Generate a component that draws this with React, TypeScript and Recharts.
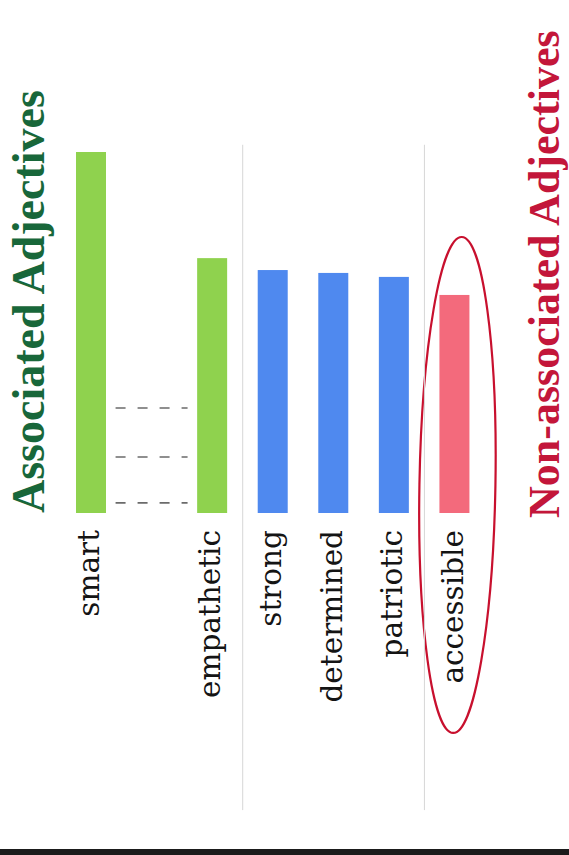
import { BarChart, Bar, XAxis, YAxis, ReferenceLine } from "recharts";

// categories left to right; "" is the gap slot where bars were left out
const categories = ["smart", "", "empathetic", "strong", "determined", "patriotic", "accessible"];
const scores = [100, 29.1, 70.6, 67.3, 66.5, 65.4, 60.4];
const groups = ["associated", "gap", "associated", "common", "common", "common", "non"];
// heights of the dashed "more bars" marks in the gap slot
const gapMarks = [29.1, 15.5, 2.8];
// a divider is drawn in front of these categories
const dividerBefore = ["strong", "accessible"];

const COLORS: Record<string, string> = {
  associated: "#8fd24e",
  common: "#4f89ef",
  non: "#f36a7c",
};

const data = categories.map((name, i) => ({
  name,
  value: scores[i],
  group: groups[i],
}));

function BarShape(props: any) {
  const { x, y, width, height, payload } = props;
  if (payload.group === "gap") {
    // value maps to height, so pixels per unit = height / value
    const perUnit = height / payload.value;
    const base = y + height;
    return (
      <g>
        {gapMarks.map((m, i) => (
          <line
            key={i}
            x1={x - 21}
            x2={x + width + 21}
            y1={base - m * perUnit}
            y2={base - m * perUnit}
            stroke="#6b6b6b"
            strokeWidth={1.6}
            strokeDasharray="10 12"
          />
        ))}
      </g>
    );
  }
  const fill = COLORS[payload.group];
  const rect = <rect x={x} y={y} width={width} height={height} fill={fill} />;
  if (payload.group !== "non") return rect;

  // hand-drawn style circle around the non-associated bar and its label
  const cx = x + width / 2 + 3;
  const top = y - 58;
  const bottom = y + height + 220;
  const ry = (bottom - top) / 2;
  const cy = top + ry;
  return (
    <g>
      {rect}
      <ellipse
        cx={cx}
        cy={cy}
        rx={38}
        ry={ry}
        fill="none"
        stroke="#c8102e"
        strokeWidth={2.2}
        transform={`rotate(1 ${cx} ${cy})`}
      />
    </g>
  );
}

function CategoryTick(props: any) {
  const { x, y, payload } = props;
  if (!payload.value) return null;
  return (
    <text
      x={x}
      y={y}
      dy={8}
      transform={`rotate(-90 ${x} ${y})`}
      textAnchor="end"
      fontFamily="DejaVu Serif"
      fontSize={29.5}
      fill="#141414"
    >
      {payload.value}
    </text>
  );
}

export default function App() {
  return (
    <div
      style={{
        position: "absolute",
        left: 0,
        top: 0,
        width: 569,
        height: 855,
        background: "#ffffff",
        overflow: "hidden",
      }}
    >
      <BarChart
        width={569}
        height={855}
        data={data}
        margin={{ top: 152, right: 84, left: 61, bottom: 0 }}
      >
        <XAxis
          dataKey="name"
          height={342}
          interval={0}
          tickLine={false}
          axisLine={false}
          tickSize={0}
          tickMargin={17}
          tick={<CategoryTick />}
        />
        <YAxis hide domain={[0, 100]} />
        {dividerBefore.map((c) => (
          <ReferenceLine
            key={c}
            segment={[
              { x: c, y: 102 },
              { x: c, y: -82.3 },
            ]}
            position="start"
            ifOverflow="visible"
            stroke="#d6d6d6"
            strokeWidth={1}
          />
        ))}
        <Bar
          dataKey="value"
          barSize={30}
          shape={<BarShape />}
          isAnimationActive={false}
        />
      </BarChart>

      <svg
        width={569}
        height={855}
        style={{ position: "absolute", left: 0, top: 0, pointerEvents: "none" }}
      >
        <text
          x={44}
          y={513}
          transform="rotate(-90 44 513)"
          fontFamily="Liberation Serif"
          fontWeight="bold"
          fontSize={46}
          fill="#18673a"
        >
          Associated Adjectives
        </text>
        <text
          x={559}
          y={518}
          transform="rotate(-90 559 518)"
          fontFamily="Liberation Serif"
          fontWeight="bold"
          fontSize={44}
          fill="#c3163a"
        >
          Non-associated Adjectives
        </text>
        <rect x={0} y={849} width={569} height={6} fill="#1b1b1b" />
      </svg>
    </div>
  );
}
